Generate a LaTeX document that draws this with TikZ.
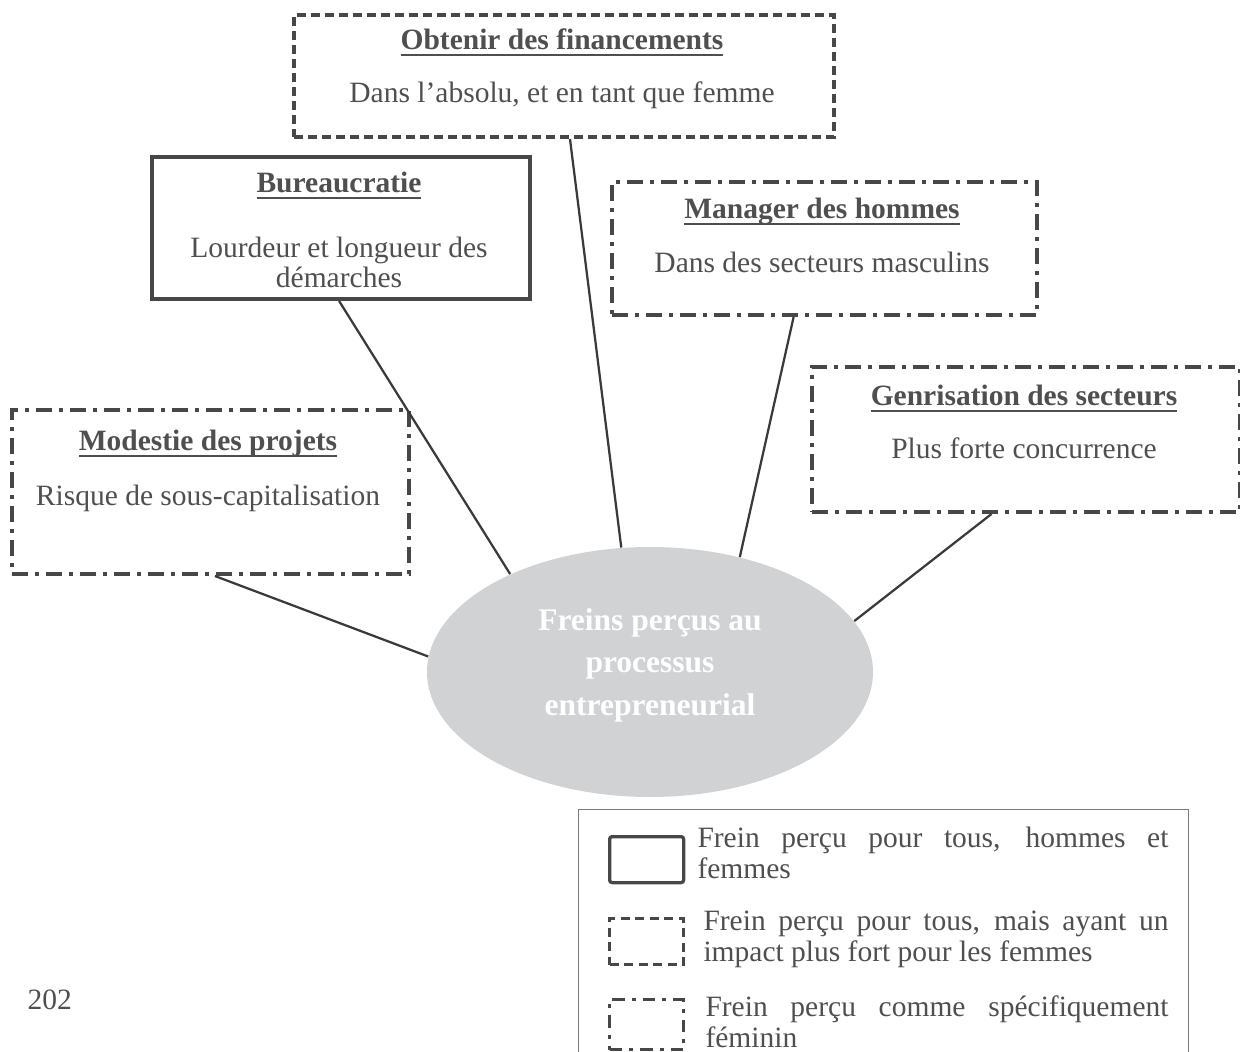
\documentclass[tikz,border=0pt]{standalone}
\usepackage{fontspec}
\setmainfont{Liberation Serif}
\usetikzlibrary{calc,shapes.geometric}

\definecolor{ink}{HTML}{4F4F4F}
\definecolor{edge}{HTML}{474747}
\definecolor{wire}{HTML}{3A3A3A}
\definecolor{bubble}{HTML}{D1D2D4}
\definecolor{frame}{HTML}{7A7A7A}

% underlined heading: a rule 0.8pt thick, 1.8pt below the baseline
\newcommand{\headline}[1]{\setbox0\hbox{#1}\rlap{\vrule height -1.8pt depth 2.6pt width \wd0}\box0}

% paragraph settings for the justified key texts
\newcommand{\keypar}{\tolerance=10000\hbadness=10000\hyphenpenalty=10000\exhyphenpenalty=10000}

\tikzset{
  x=0.4pt, y=-0.4pt,
  brakebox/.style={rectangle, draw=edge, line width=1.6pt, inner sep=0pt, anchor=north west},
  plainbrake/.style={brakebox},
  dashbrake/.style={brakebox, dash pattern=on 3.6pt off 2pt},
  femalebrake/.style={brakebox, dash pattern=on 6.4pt off 2.8pt on 1.6pt off 2.8pt},
  ttl/.style={anchor=base, inner sep=0pt, text=ink, font=\fontsize{11.8}{12.4}\selectfont\bfseries},
  txt/.style={anchor=base, inner sep=0pt, text=ink, font=\fontsize{11.8}{12.4}\selectfont},
  hubtxt/.style={anchor=base, inner sep=0pt, text=white, font=\fontsize{12.6}{16.8}\selectfont\bfseries},
  link/.style={draw=wire, line width=0.9pt},
  keyicon/.style={rectangle, draw=edge, line width=1.3pt, inner sep=0pt, anchor=north west,
    minimum width=29.6pt, minimum height=18.4pt},
  keytxt/.style={anchor=base west, inner sep=0pt, text=ink, font=\fontsize{11.8}{12.4}\selectfont},
}

\begin{document}
\begin{tikzpicture}
\useasboundingbox (0,0) rectangle (1240,1052);
\clip (0,0) rectangle (1240,1052);

% central bubble
\node[ellipse, fill=bubble, minimum width=178.4pt, minimum height=100pt, inner sep=0pt] (hub) at (650,672) {};
\node[hubtxt] (hubA) at (650,630) {Freins perçus au};
\node[hubtxt] (hubB) at (650,672) {processus};
\node[hubtxt] (hubC) at (650,715) {entrepreneurial};

% the five brakes
\node[dashbrake, minimum width=216pt, minimum height=48.8pt] (fin) at (292,13) {};
\node[ttl] (finT) at (562,50) {\headline{Obtenir des financements}};
\node[txt] (finS) at (562,103) {Dans l’absolu, et en tant que femme};

\node[plainbrake, minimum width=151.2pt, minimum height=56.8pt] (bur) at (150,155) {};
\node[ttl] (burT) at (339,193) {\headline{Bureaucratie}};
\node[txt] (burS) at (339,257) {Lourdeur et longueur des};
\node[txt] (burS2) at (339,287) {démarches};

\node[femalebrake, minimum width=170pt, minimum height=53.2pt] (man) at (610,180) {};
\node[ttl] (manT) at (822,218) {\headline{Manager des hommes}};
\node[txt] (manS) at (822,272) {Dans des secteurs masculins};

\node[femalebrake, minimum width=171.2pt, minimum height=58pt] (gen) at (810,365) {};
\node[ttl] (genT) at (1024,405) {\headline{Genrisation des secteurs}};
\node[txt] (genS) at (1024,458) {Plus forte concurrence};

\node[femalebrake, minimum width=158.8pt, minimum height=65.6pt] (mod) at (10,408) {};
\node[ttl] (modT) at (208,450) {\headline{Modestie des projets}};
\node[txt] (modS) at (208,505) {Risque de sous-capitalisation};

% connectors to the bubble
\draw[link] ($(fin.south west)!0.511!(fin.south east)$) -- (hub.103.5);
\draw[link] ($(bur.south west)!0.495!(bur.south east)$) -- (hub.145.1);
\draw[link] ($(man.south west)!0.428!(man.south east)$) -- (hub.52.4);
\draw[link] ($(gen.south west)!0.42!(gen.south east)$) -- (hub.14.4);
\draw[link] ($(mod.south west)!0.511!(mod.south east)$) -- (hub.176.9);

% key
\node[rectangle, draw=frame, line width=0.5pt, anchor=north west, inner sep=0pt,
  minimum width=244pt, minimum height=110pt] (key) at (578,809) {};

\node[keyicon, rounded corners=1pt] (keyA) at (608,835) {};
\node[keytxt] (keyAT) at (697,847) {\parbox[t]{188.4pt}{\keypar Frein perçu pour tous, hommes et femmes}};

\node[keyicon, dash pattern=on 3.6pt off 2.2pt] (keyB) at (608,917) {};
\node[keytxt] (keyBT) at (703,930) {\parbox[t]{186pt}{\keypar Frein perçu pour tous, mais ayant un impact plus fort pour les femmes}};

\node[keyicon, minimum height=20pt, dash pattern=on 5pt off 2.8pt on 1.6pt off 2.8pt] (keyC) at (608,998) {};
\node[keytxt] (keyCT) at (705,1016) {\parbox[t]{185.2pt}{\keypar Frein perçu comme spécifiquement féminin}};

% page number
\node[anchor=base west, inner sep=0pt, text=ink, font=\fontsize{11.8}{12.4}\selectfont] (page) at (27,1009) {202};
\end{tikzpicture}
\end{document}
